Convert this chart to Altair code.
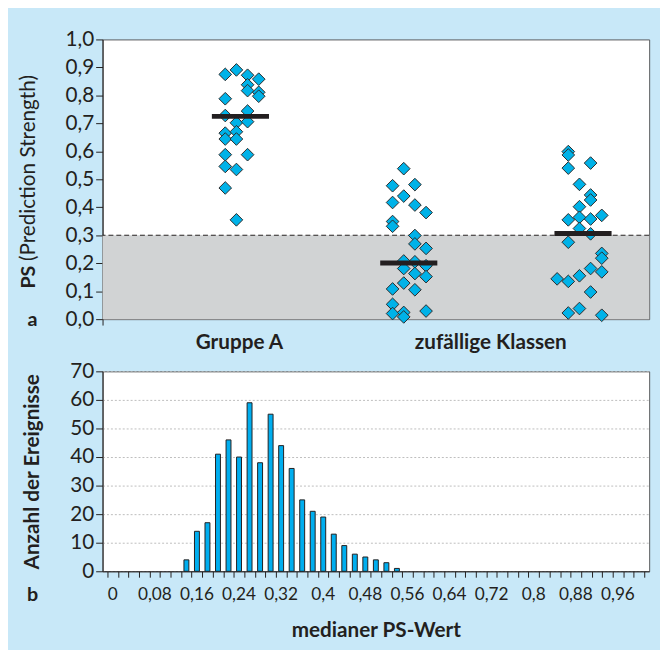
import altair as alt
import pandas as pd

FONT = "Lato"
TXT = "#231F20"
BG = "#C8E8F8"
CYAN = "#00B2E8"

# ---------------- data: panel a (PS values, jitter column per point) ----------------
a_cols = [0]*8 + [1]*6 + [2]*6 + [3]*3
a_vals = [0.875, 0.788, 0.728, 0.665, 0.644, 0.588, 0.546, 0.469,
          0.891, 0.702, 0.670, 0.644, 0.535, 0.355,
          0.872, 0.838, 0.817, 0.744, 0.706, 0.588,
          0.858, 0.811, 0.797]
b_cols = [0]*7 + [1]*7 + [2]*7 + [3]*5
b_vals = [0.477, 0.417, 0.349, 0.332, 0.108, 0.053, 0.020,
          0.538, 0.440, 0.208, 0.181, 0.129, 0.024, 0.008,
          0.481, 0.408, 0.299, 0.269, 0.205, 0.163, 0.105,
          0.381, 0.253, 0.191, 0.152, 0.029]
c_cols = [0] + [1]*7 + [2]*6 + [3]*7 + [4]*5
c_vals = [0.144,
          0.599, 0.587, 0.540, 0.355, 0.275, 0.135, 0.022,
          0.482, 0.402, 0.364, 0.324, 0.155, 0.038,
          0.558, 0.444, 0.426, 0.358, 0.305, 0.181, 0.097,
          0.371, 0.235, 0.218, 0.169, 0.014]
group_base = [11.0, 26.0, 40.75]       # first jitter column of each group
group_center = [12.36, 27.45, 43.07]
medians = [0.725, 0.201, 0.306]
median_half = 2.56
threshold = 0.3
cat_labels = ["Gruppe A", "zufällige Klassen"]
cat_pos = [12.27, 34.8]
y_ticks_a = [i / 10 for i in range(11)]

# ---------------- data: panel b (histogram of median PS) ----------------
bin_width = 0.02
counts = [0, 0, 0, 0, 0, 0, 0, 4, 14, 17, 41, 46, 40, 59, 38, 55, 44, 36, 25, 21, 19,
          13, 9, 6, 5, 4, 3, 1] + [0] * 23
x_labels = ["0", "0,08", "0,16", "0,24", "0,32", "0,4", "0,48", "0,56",
            "0,64", "0,72", "0,8", "0,88", "0,96"]
y_ticks_b = list(range(0, 71, 10))

# ---------------- tables ----------------
rows = []
for g, (cols, vals) in enumerate([(a_cols, a_vals), (b_cols, b_vals), (c_cols, c_vals)]):
    for c, v in zip(cols, vals):
        rows.append({"x": group_base[g] + c, "ps": v})
pts = pd.DataFrame(rows)
med = pd.DataFrame({"x0": [c - median_half for c in group_center],
                    "x1": [c + median_half for c in group_center],
                    "m": medians})
shade = pd.DataFrame({"x0": [0.0], "x1": [49.0], "y0": [0.0], "y1": [threshold]})
thr = pd.DataFrame({"t": [threshold]})
cats = pd.DataFrame({"x": cat_pos, "label": cat_labels})

hist = pd.DataFrame({"xc": [round(k * bin_width + bin_width / 2, 4) for k in range(len(counts))],
                     "n": counts})
hist = hist[hist["n"] > 0]
xlab = pd.DataFrame({"xc": [round(4 * i * bin_width + bin_width / 2, 4) for i in range(len(x_labels))],
                     "label": x_labels})
x_tick_vals = [round(k * bin_width, 4) for k in range(len(counts) + 1)]

W, HA, HB = 555, 284, 203

# ---------------- panel a ----------------
xs_a = alt.Scale(domain=[0, 49], nice=False, zero=False)
ys_a = alt.Scale(domain=[0, 1], nice=False)
x_axis_a = alt.Axis(values=[0], labels=False, tickSize=6, grid=False, title=None,
                    domain=False, tickColor=TXT)
y_axis_a = alt.Axis(values=y_ticks_a, labelExpr="replace(format(datum.value, '.1f'), '.', ',')",
                    title=None, grid=False, tickSize=7, tickColor=TXT, domainColor=TXT,
                    labelFontSize=21, labelColor=TXT, labelFont=FONT, labelPadding=2)

shade_l = alt.Chart(shade).mark_rect(color="#D1D3D4").encode(
    x=alt.X("x0:Q", scale=xs_a, axis=x_axis_a), x2="x1",
    y=alt.Y("y0:Q", scale=ys_a, axis=y_axis_a), y2="y1")
thr_l = alt.Chart(thr).mark_rule(color=TXT, strokeDash=[5, 3], strokeWidth=1).encode(
    y=alt.Y("t:Q", scale=ys_a, axis=y_axis_a))
pts_l = alt.Chart(pts).mark_point(shape="diamond", filled=True, size=165, fill=CYAN,
                                   stroke="#2B2B2B", strokeWidth=1, opacity=1).encode(
    x=alt.X("x:Q", scale=xs_a, axis=x_axis_a),
    y=alt.Y("ps:Q", scale=ys_a, axis=y_axis_a))
med_l = alt.Chart(med).mark_rule(color=TXT, strokeWidth=5).encode(
    x=alt.X("x0:Q", scale=xs_a, axis=x_axis_a), x2="x1",
    y=alt.Y("m:Q", scale=ys_a, axis=y_axis_a))
cat_l = alt.Chart(cats).mark_text(font=FONT, fontSize=21, fontWeight="bold", color=TXT,
                                  baseline="middle").encode(
    x=alt.X("x:Q", scale=xs_a, axis=x_axis_a), y=alt.value(HA + 24), text="label:N")
ps_bold = alt.Chart(pd.DataFrame({"t": ["PS"]})).mark_text(
    font=FONT, fontSize=20, fontWeight="bold", color=TXT, angle=270, align="left",
    baseline="middle").encode(x=alt.value(-75), y=alt.value(253), text="t:N")
ps_rest = alt.Chart(pd.DataFrame({"t": ["(Prediction Strength)"]})).mark_text(
    font=FONT, fontSize=21, color=TXT, angle=270, align="left",
    baseline="middle").encode(x=alt.value(-75), y=alt.value(225), text="t:N")
a_lab = alt.Chart(pd.DataFrame({"t": ["a"]})).mark_text(
    font=FONT, fontSize=20, fontWeight="bold", color=TXT, baseline="middle").encode(
    x=alt.value(-71), y=alt.value(HA + 1), text="t:N")

top = alt.layer(shade_l, thr_l, pts_l, med_l, cat_l, ps_bold, ps_rest, a_lab).properties(
    width=W, height=HA)

# ---------------- panel b ----------------
xs_b = alt.Scale(domain=[0, 1.02], nice=False, zero=False)
ys_b = alt.Scale(domain=[0, 70], nice=False)
x_axis_b = alt.Axis(values=x_tick_vals, labels=False, tickSize=6, grid=False,
                    tickColor=TXT, domainColor=TXT,
                    title="medianer PS-Wert", titleFont=FONT, titleFontSize=21,
                    titleFontWeight="bold", titleColor=TXT, titlePadding=43)
y_axis_b = alt.Axis(values=y_ticks_b, grid=True, gridDash=[2, 2], gridColor="#BDBDBD",
                    tickSize=7, tickColor=TXT, domainColor=TXT,
                    labelFontSize=21, labelColor=TXT, labelFont=FONT, labelPadding=2,
                    title="Anzahl der Ereignisse", titleFont=FONT, titleFontSize=21,
                    titleFontWeight="bold", titleColor=TXT, titlePadding=28)

bars = alt.Chart(hist).mark_bar(size=5, fill="#00AEEF", stroke=TXT, strokeWidth=1).encode(
    x=alt.X("xc:Q", scale=xs_b, axis=x_axis_b),
    y=alt.Y("n:Q", scale=ys_b, axis=y_axis_b))
xl = alt.Chart(xlab).mark_text(font=FONT, fontSize=17.5, color=TXT, baseline="middle").encode(
    x=alt.X("xc:Q", scale=xs_b, axis=x_axis_b), y=alt.value(HB + 24), text="label:N")
b_lab = alt.Chart(pd.DataFrame({"t": ["b"]})).mark_text(
    font=FONT, fontSize=20, fontWeight="bold", color=TXT, baseline="middle").encode(
    x=alt.value(-71), y=alt.value(HB + 24), text="t:N")

bottom = alt.layer(bars, xl, b_lab).properties(width=W, height=HB)

chart = alt.vconcat(top, bottom, spacing=6).properties(
    padding={"left": 9, "top": 15, "right": 10, "bottom": 4},
    background=BG
).configure_view(fill="white", stroke="#58595B", strokeWidth=1)

chart.save("out.html", embed_options={"renderer": "svg", "actions": False})
